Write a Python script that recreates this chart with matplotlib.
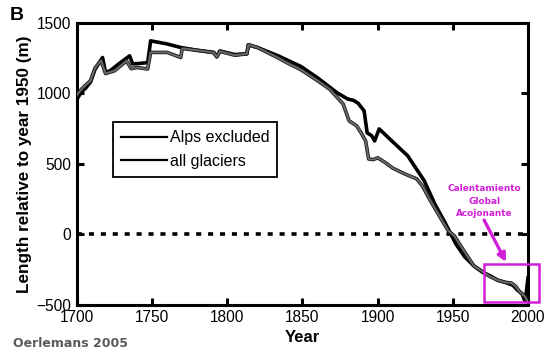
import matplotlib
matplotlib.use('Agg')
import matplotlib.pyplot as plt
import matplotlib.patheffects as pe
from matplotlib.patches import Rectangle

plt.rcParams['font.family'] = ['Liberation Sans', 'DejaVu Sans']

# Alps excluded (black)
years_ex = [1700, 1703, 1706, 1709, 1712, 1717, 1719, 1722, 1728, 1735, 1737, 1742, 1747, 1749,
            1760, 1769, 1780, 1791, 1793, 1795, 1805, 1813, 1814, 1820, 1834, 1840, 1849, 1860,
            1873, 1880, 1884, 1887, 1891, 1893, 1896, 1898, 1901, 1908, 1920, 1931, 1938, 1945,
            1952, 1958, 1964, 1970, 1975, 1980, 1985, 1990, 1993, 1996, 1998, 1999, 2000]
len_ex = [960, 1010, 1040, 1080, 1170, 1254, 1148, 1160, 1210, 1266, 1209, 1212, 1218, 1372,
          1350, 1325, 1305, 1290, 1259, 1300, 1275, 1280, 1344, 1325, 1265, 1235, 1190, 1110,
          1004, 960, 950, 930, 876, 720, 700, 663, 748, 677, 557, 380, 216, 80,
          -67, -160, -223, -270, -294, -325, -340, -360, -395, -420, -472, -400, -308]

# all glaciers (grey)
years_all = [1700, 1703, 1706, 1709, 1712, 1716, 1719, 1725, 1733, 1736, 1740, 1747, 1749,
             1760, 1769, 1770, 1780, 1791, 1793, 1795, 1805, 1813, 1814, 1820, 1834, 1840,
             1849, 1860, 1868, 1877, 1881, 1886, 1889, 1892, 1894, 1897, 1900, 1905, 1910,
             1918, 1926, 1930, 1934, 1940, 1947, 1951, 1957, 1964, 1970, 1974, 1980, 1985,
             1989, 1992, 1994, 1996, 1998, 2000]
len_all = [990, 1030, 1060, 1090, 1180, 1232, 1140, 1160, 1230, 1175, 1183, 1173, 1290,
           1290, 1254, 1318, 1305, 1288, 1259, 1298, 1270, 1280, 1344, 1325, 1250, 1215,
           1167, 1090, 1030, 925, 805, 770, 720, 663, 535, 530, 543, 510, 470,
           429, 394, 340, 259, 150, 25, -10, -110, -223, -265, -294, -325, -340,
           -344, -370, -400, -422, -440, -480]

xticks = [1700, 1750, 1800, 1850, 1900, 1950, 2000]
yticks = [-500, 0, 500, 1000, 1500]
magenta = '#d21fd8'

fig = plt.figure(figsize=(5.52, 3.56), dpi=100)
ax = fig.add_axes([0.1395, 0.1433, 0.817, 0.7927])

ax.axhline(0, color='black', lw=2.6, linestyle=(0, (1.4, 1.9)), zorder=1)
ax.plot(years_ex, len_ex, color='black', lw=2.6, solid_joinstyle='round', zorder=2)
ax.plot(years_all, len_all, color='#6a6a6a', lw=1.4, zorder=3,
        path_effects=[pe.Stroke(linewidth=2.6, foreground='#1a1a1a'), pe.Normal()])

ax.set_xlim(1700, 2000)
ax.set_ylim(-500, 1500)
ax.set_xticks(xticks)
ax.set_yticks(yticks)
ax.tick_params(direction='in', length=5, width=2.2, top=True, right=True,
               labelsize=11.2)
ax.tick_params(axis='x', pad=3.5)
ax.tick_params(axis='y', pad=4)
for s in ax.spines.values():
    s.set_linewidth(2.2)

ax.set_xlabel('Year', fontsize=12, fontweight='bold', labelpad=4)
ax.set_ylabel('Length relative to year 1950 (m)', fontsize=12.3, fontweight='bold', labelpad=3)

h1, = ax.plot([], [], color='black', lw=1.6)
h2, = ax.plot([], [], color='black', lw=1.6)
leg = ax.legend([h1, h2], ['Alps excluded', 'all glaciers'], loc='upper left',
                bbox_to_anchor=(0.08, 0.648), borderaxespad=0, fontsize=11.5,
                handlelength=2.9, handletextpad=0.15, labelspacing=0.55,
                borderpad=0.5, fancybox=False, framealpha=1, edgecolor='black')
leg.get_frame().set_linewidth(1.3)

# annotation
ax.add_patch(Rectangle((1971, -479), 36.3, 269, fill=False, edgecolor=magenta,
                       lw=1.8, clip_on=False, zorder=5))
ax.annotate('', xy=(1985.4, -195), xytext=(1970.8, 102),
            arrowprops=dict(arrowstyle='-|>', color=magenta, lw=2.4,
                            mutation_scale=12, shrinkA=0, shrinkB=0))
ax.text(1970.8, 236, 'Calentamiento\nGlobal\nAcojonante', color=magenta,
        fontsize=6.4, fontweight='bold', family='DejaVu Sans', ha='center',
        va='center', linespacing=1.5)

fig.text(0.018, 0.957, 'B', fontsize=14, fontweight='bold', va='center')
fig.text(0.023, 0.036, 'Oerlemans 2005', fontsize=9, fontweight='bold',
         family='DejaVu Sans', color='#5a5a5a', va='center')

fig.savefig('out.png', dpi=100)
